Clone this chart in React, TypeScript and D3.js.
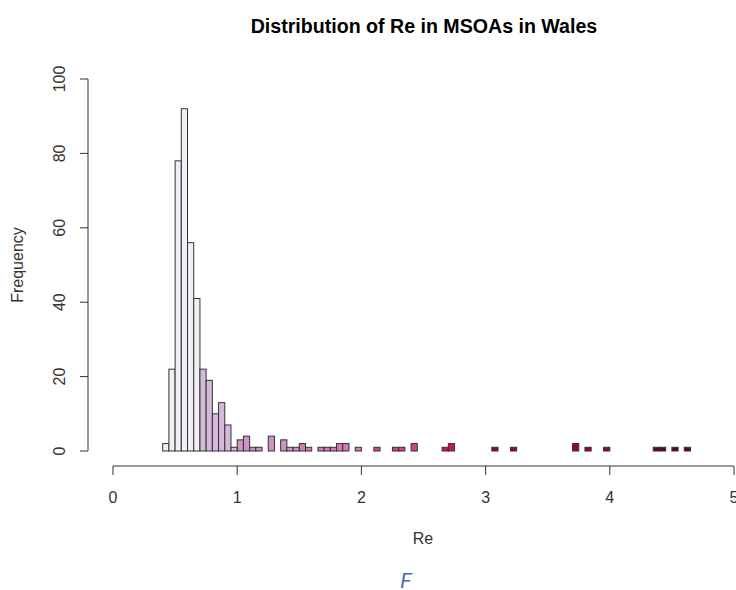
import * as d3 from 'd3'

// histogram of Re, breaks every 0.05 starting at 0.40
const breakStart = 0.4
const binWidth = 0.05
const counts = [
  2, 22, 78, 92, 56, 41, 22, 19, 10, 13, 7, 1, 3, 4, 1, 1, 0, 4, 0, 3,
  1, 1, 2, 1, 0, 1, 1, 1, 2, 2, 0, 1, 0, 0, 1, 0, 0, 1, 1, 0,
  2, 0, 0, 0, 0, 1, 2, 0, 0, 0, 0, 0, 0, 1, 0, 0, 1, 0, 0, 0,
  0, 0, 0, 0, 0, 0, 2, 0, 1, 0, 0, 1, 0, 0, 0, 0, 0, 0, 0, 1,
  1, 0, 1, 0, 1,
]
const colorBreaks = [0.7, 1.0, 1.5, 2.0, 2.5, 3.0, 4.0]
const colors = ['#f1eef6', '#d4b9da', '#c994c7', '#d77bb8', '#d7408a', '#ce1256', '#980043', '#67001f']
const xTicks = [0, 1, 2, 3, 4, 5]
const yTicks = [0, 20, 40, 60, 80, 100]

const W = 736
const H = 590
const font = 'Liberation Sans, Arial, sans-serif'

export default function App() {
  const x = d3.scaleLinear().domain([0, 5]).range([113, 734])
  const y = d3.scaleLinear().domain([0, 100]).range([451, 79])
  const fill = d3.scaleThreshold<number, string>().domain(colorBreaks).range(colors)
  const bins = counts.map((c, i) => {
    const x0 = breakStart + i * binWidth
    return { x0, x1: x0 + binWidth, c }
  })

  return (
    <svg width={W} height={H} style={{ position: 'absolute', left: 0, top: 0 }} fontFamily={font}>
      <rect width={W} height={H} fill="#fff" />
      <text x={424} y={33} textAnchor="middle" fontSize={19.6} fontWeight="bold" fill="#000">
        Distribution of Re in MSOAs in Wales
      </text>

      {bins.map((b, i) => (
        <rect
          key={i}
          x={x(b.x0)}
          y={y(b.c)}
          width={x(b.x1) - x(b.x0)}
          height={y(0) - y(b.c)}
          fill={fill(b.x0 + binWidth / 2)}
          stroke="#333"
          strokeWidth={1}
        />
      ))}

      {/* y axis */}
      <line x1={88} x2={88} y1={y(0)} y2={y(100)} stroke="#333" />
      {yTicks.map((t) => (
        <g key={t}>
          <line x1={80} x2={88} y1={y(t)} y2={y(t)} stroke="#333" />
          <text
            transform={`translate(65,${y(t)}) rotate(-90)`}
            textAnchor="middle"
            fontSize={16}
            fill="#333"
          >
            {t}
          </text>
        </g>
      ))}
      <text transform={`translate(23,265) rotate(-90)`} textAnchor="middle" fontSize={16} fill="#333">
        Frequency
      </text>

      {/* x axis */}
      <line x1={x(0)} x2={x(5)} y1={466} y2={466} stroke="#333" />
      {xTicks.map((t) => (
        <g key={t}>
          <line x1={x(t)} x2={x(t)} y1={466} y2={475} stroke="#333" />
          <text x={x(t)} y={503} textAnchor="middle" fontSize={16} fill="#333">
            {t}
          </text>
        </g>
      ))}
      <text x={423} y={544} textAnchor="middle" fontSize={16} fill="#333">
        Re
      </text>

      <text x={406} y={588} textAnchor="middle" fontSize={21} fontStyle="italic" fill="#3f6db5" fontFamily="Roboto, sans-serif">
        F
      </text>
    </svg>
  )
}
